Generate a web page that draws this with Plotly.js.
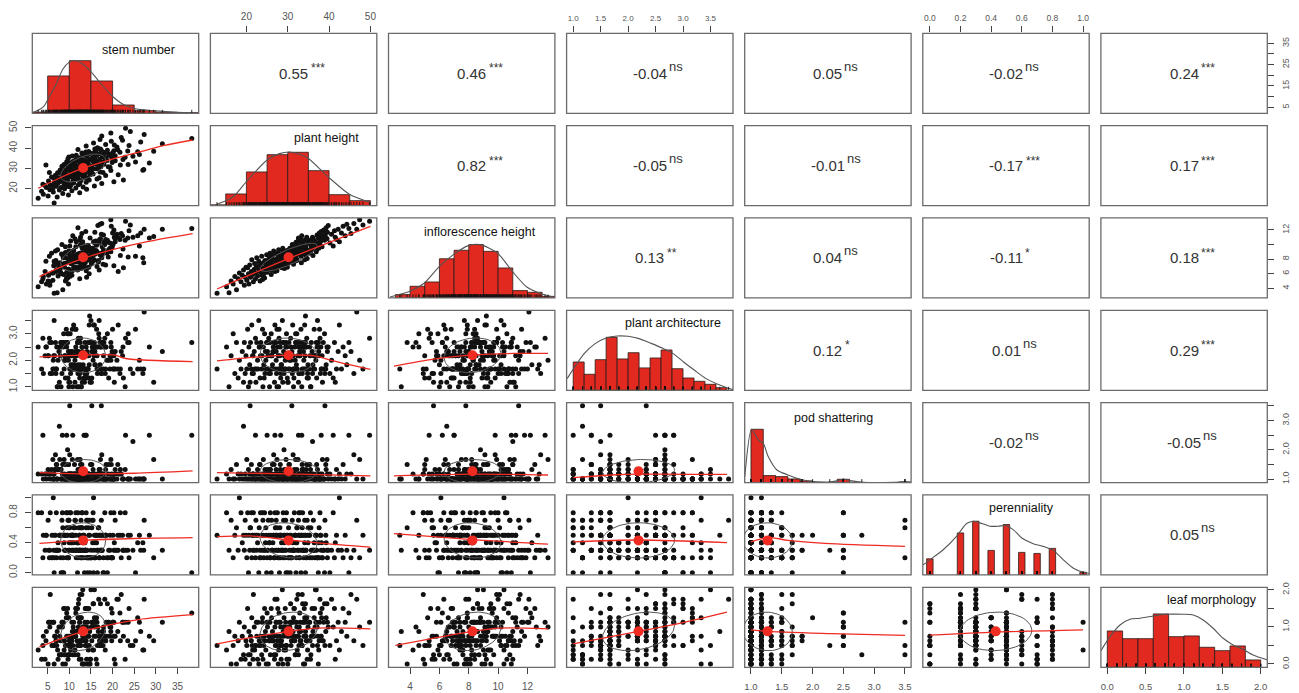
<!DOCTYPE html>
<html><head><meta charset="utf-8">
<script src="https://cdn.plot.ly/plotly-3.0.1.min.js"></script>
<style>html,body{margin:0;padding:0;background:#fff}</style>
</head><body><div id="chart" style="width:1299px;height:693px"></div>
<script>
// ---------------- DATA ----------------
const varNames = ['stem number','plant height','inflorescence height','plant architecture','pod shattering','perenniality','leaf morphology'];

const plantHeight = [12.9,
15.2,15.8,16.3,16.8,17.2,17.6,18.0,18.3,18.7,19.0,19.3,19.5,19.7,19.9,
20.1,20.3,20.5,20.6,20.8,21.0,21.2,21.3,21.5,21.7,21.9,22.0,22.2,22.3,22.5,22.7,22.8,23.0,23.1,23.3,23.4,23.5,23.7,23.8,24.0,24.1,24.2,24.4,24.5,24.6,24.8,24.9,20.9,21.6,22.4,23.2,23.9,24.3,24.7,21.4,
25.0,25.3,25.1,25.6,25.4,25.9,25.7,26.2,25.8,26.0,26.5,26.3,26.1,26.8,26.6,27.0,26.9,26.4,27.3,27.1,27.6,27.2,27.8,27.5,27.4,28.0,27.7,28.3,27.9,28.1,28.6,28.2,28.4,28.9,28.5,28.7,29.2,28.8,29.0,29.5,29.1,29.3,29.8,29.4,29.6,29.9,29.7,25.2,25.5,26.7,27.4,28.2,28.9,29.5,26.2,27.9,25.8,29.1,26.9,28.4,27.2,
30.0,30.4,30.2,30.7,30.5,30.9,30.3,31.1,30.8,31.4,31.2,31.6,31.0,31.8,31.5,32.0,31.3,32.3,31.7,32.1,32.5,31.9,32.7,32.4,32.2,32.9,32.6,33.1,32.8,33.3,33.0,33.5,33.2,33.7,33.4,33.9,33.6,34.1,33.8,34.3,34.0,34.5,34.2,34.7,34.4,34.9,34.6,34.8,30.6,31.3,32.2,33.0,33.8,34.4,30.1,31.9,32.8,33.5,34.1,30.8,31.6,32.6,34.3,
35.0,35.4,35.2,35.7,35.5,35.9,36.1,35.3,36.4,36.0,36.6,36.2,36.9,36.5,37.1,36.8,37.4,37.0,37.6,37.2,37.9,37.5,38.1,37.8,38.4,38.0,38.7,38.3,39.0,38.6,39.3,38.9,39.6,39.2,39.8,35.6,36.3,37.3,38.2,39.5,36.7,37.7,
40.2,40.6,41.0,41.3,41.8,42.2,42.5,43.0,43.4,43.9,44.3,44.8,41.5,
45.3,46.0,46.7,47.4,48.2,49.8];

const stemNumber = [6.5,
2.8,7.2,5.1,9.8,4.0,8.5,12.4,6.3,3.6,10.6,7.7,5.5,14.0,8.9,
6.2,11.5,8.1,4.7,13.2,9.4,7.0,15.8,10.3,5.6,12.1,8.8,3.9,9.9,17.5,7.4,11.0,6.5,13.9,9.1,20.3,8.0,10.8,5.2,12.7,7.8,14.6,9.6,6.9,11.9,16.4,8.4,10.1,4.4,12.4,7.1,9.3,22.5,11.3,6.0,
9.4,14.2,7.6,11.8,16.9,10.5,5.9,13.1,12.0,8.7,18.4,11.2,9.9,14.8,6.8,12.6,21.3,10.0,13.7,8.2,11.6,15.5,7.3,12.9,10.7,17.8,9.1,13.4,5.4,11.0,14.1,8.6,12.3,19.6,10.4,15.0,7.9,13.0,11.4,27.2,9.6,12.8,16.2,8.9,11.9,14.5,10.2,6.4,13.6,9.8,12.2,17.1,10.9,15.3,7.0,11.5,6.6,27.0,8.4,12.5,10.6,
13.5,9.8,16.7,12.1,19.4,10.6,14.9,8.3,17.3,12.8,11.0,21.8,15.2,9.1,13.8,18.0,11.7,14.4,4.6,16.0,12.5,23.6,10.3,15.7,13.1,19.9,11.3,17.6,14.0,9.4,16.4,12.9,25.3,13.6,10.8,18.7,15.5,12.2,20.6,14.7,11.9,17.0,13.3,9.7,22.4,15.9,12.6,18.3,14.2,10.1,16.8,13.0,20.1,11.5,15.1,8.8,17.9,12.4,14.6,19.0,13.7,28.5,15.6,
15.2,19.8,12.4,17.6,22.9,14.1,10.7,18.5,16.3,24.7,13.4,20.6,15.8,11.6,17.9,26.2,14.8,19.1,12.9,16.9,21.7,15.4,13.8,18.2,29.5,16.1,20.3,14.5,17.4,23.5,12.0,18.8,15.9,21.2,16.6,9.9,19.4,14.3,25.8,17.2,13.1,20.0,
16.5,21.0,13.9,23.8,18.4,31.5,15.6,26.5,19.7,22.3,17.1,38.3,20.4,
22.0,17.5,27.3,19.6,24.1,23.0];

const inflHeight = [3.3,
4.2,3.4,5.0,4.6,5.6,3.8,5.3,6.1,4.9,5.8,6.5,4.4,5.5,6.9,
5.1,6.8,6.0,4.6,7.2,5.5,6.3,7.9,5.9,4.9,6.6,7.4,5.3,6.1,8.2,5.7,6.9,7.7,6.4,5.0,7.1,6.2,8.4,5.8,6.7,7.5,6.0,5.4,7.8,6.5,7.0,8.6,5.6,6.3,6.9,7.3,5.2,6.8,7.6,6.1,
6.2,7.9,7.0,8.3,6.5,7.4,8.8,6.8,7.6,5.9,7.2,8.5,6.6,7.8,9.1,7.1,6.3,8.0,7.5,8.7,6.9,7.7,9.3,8.1,6.4,7.3,8.9,7.0,8.4,7.6,6.8,8.2,7.9,9.0,7.4,8.6,6.7,9.5,8.0,7.5,8.8,7.2,9.2,8.3,7.8,6.9,8.5,7.1,7.7,6.6,8.0,8.6,9.1,8.4,6.5,7.9,7.3,8.2,7.0,8.1,7.4,
8.1,9.0,7.6,8.6,9.5,7.9,8.4,10.0,8.8,7.3,9.2,8.5,7.8,9.7,8.9,10.3,8.2,9.4,7.7,8.7,9.9,8.3,10.5,9.1,8.0,9.6,10.8,8.6,9.3,7.5,9.0,10.1,8.4,9.8,11.2,8.8,9.5,7.9,10.4,9.2,8.7,10.7,9.6,8.1,9.4,10.2,11.0,9.0,8.5,9.8,7.8,8.9,10.0,9.7,7.4,8.2,9.3,10.6,9.1,8.3,9.5,10.9,8.6,
9.2,10.1,8.8,9.7,10.6,9.4,8.5,10.3,9.9,11.0,9.6,10.8,9.0,10.4,11.3,9.8,10.9,9.3,11.5,10.2,10.7,9.5,11.8,10.0,11.1,10.5,12.0,9.7,11.4,10.9,12.3,10.6,11.7,11.0,12.6,9.1,10.2,9.9,11.2,10.8,10.4,11.6,
10.2,11.4,9.8,11.9,10.7,12.1,10.4,11.6,12.5,11.2,12.8,12.2,11.0,
11.5,12.9,12.1,13.4,12.7,13.2];

const plantArchitecture = [
1.67,2.5,1.0,2.17,3.0,1.5,2.67,1.33,2.0,1.67,2.33,1.17,
2.67,1.5,2.17,1.67,3.17,1.0,2.5,1.83,2.67,1.67,3.33,2.17,
1.5,2.33,1.67,2.83,1.17,2.67,2.0,1.67,3.5,2.5,1.33,2.17,
2.67,1.67,2.17,1.0,2.5,1.83,3.0,1.5,2.33,1.67,2.67,1.17,
2.17,1.67,2.5,3.17,1.33,2.0,1.5,2.67,1.67,2.33,1.0,2.83,
1.67,2.67,2.17,1.5,3.0,2.5,1.83,2.17,1.17,2.67,1.67,3.33,
2.33,1.5,2.67,1.67,2.0,1.0,2.5,3.17,1.67,2.17,1.33,2.83,
2.17,1.67,2.5,1.5,2.67,1.83,3.5,2.17,1.17,2.33,1.67,2.67,
1.67,2.5,2.0,2.67,1.33,3.0,2.17,1.5,2.33,1.0,2.67,1.67,
2.5,1.67,3.17,2.17,1.5,2.67,1.83,2.33,1.17,2.0,1.67,2.83,
1.67,2.17,2.67,1.5,2.5,1.0,3.33,1.67,2.33,2.0,1.33,2.67,
2.17,1.67,2.5,1.83,2.67,3.0,1.5,2.17,1.67,2.33,1.17,2.67,
1.5,2.5,2.17,1.67,3.17,2.67,1.0,2.0,2.5,1.67,2.33,3.67,
2.67,1.67,2.17,1.33,2.5,1.83,2.83,1.5,2.17,1.67,3.0,2.33,
1.67,2.5,1.17,2.67,2.17,1.5,3.33,2.0,1.67,2.5,2.67,1.33,
2.17,1.67,2.67,1.0,2.33,1.83,2.5,3.17,1.5,2.17,1.67,2.67,
1.67,2.5,2.0,2.67,1.33,2.17,3.5,1.5,2.33,1.67,2.83,1.17,
2.5,1.67,2.17,1.5,2.67,1.83,3.0,2.33,1.67,2.5,1.0,2.17,
2.67,1.67,2.5,2.17,3.17,1.5,2.0,1.33,2.67,1.67,2.33,3.33,
1.67,2.5,2.17,1.83,2.67,1.17,2.33,1.5,3.83,2.0,1.67,2.83];

const podShattering = [
1.0,1.17,1.0,1.33,1.0,1.0,1.5,1.17,1.0,1.17,1.0,2.8,
1.0,1.17,1.0,1.67,1.0,1.33,1.0,1.17,1.0,1.5,1.0,1.17,
1.17,1.0,1.0,2.5,1.0,1.17,1.33,1.0,1.17,1.0,1.5,1.0,
1.0,1.0,1.17,1.0,1.67,1.17,1.0,1.33,1.0,1.0,1.17,3.5,
1.17,1.0,1.5,1.0,1.0,1.17,1.0,2.5,1.0,1.33,1.17,1.0,
1.0,1.33,1.0,1.17,1.0,1.0,1.5,1.17,1.0,1.83,1.0,1.17,
1.0,1.17,1.0,1.0,1.33,1.0,1.17,1.67,1.0,1.0,2.5,1.17,
1.17,1.0,1.5,1.0,1.0,1.17,1.0,1.33,1.0,1.17,1.0,2.0,
1.0,1.0,1.17,1.67,1.0,1.17,1.0,1.0,1.5,1.0,1.33,1.17,
1.17,1.0,1.0,1.33,1.0,2.5,1.17,1.0,1.0,1.5,1.17,1.0,
1.0,1.17,1.5,1.0,1.0,1.17,1.0,1.33,3.5,1.0,1.17,1.0,
1.0,1.0,1.17,1.0,1.67,1.0,1.17,1.0,1.33,1.0,1.0,1.17,
1.17,1.0,1.0,1.5,1.0,1.17,2.5,1.0,1.17,1.0,1.33,1.0,
1.0,1.33,1.0,1.17,1.0,1.0,1.5,1.0,1.17,1.83,1.0,1.17,
1.0,1.17,1.0,1.67,1.0,1.33,1.0,1.17,1.0,2.5,1.0,1.5,
1.17,1.0,1.0,1.33,1.17,1.0,1.5,1.0,2.28,1.0,1.17,1.0,
1.0,1.17,1.0,1.0,1.5,1.0,1.33,1.17,1.0,2.5,1.0,1.67,
1.0,1.0,1.17,3.5,1.0,1.33,1.0,1.17,1.5,1.0,1.17,1.0,
1.17,1.0,1.67,1.0,1.0,1.17,1.0,2.5,1.0,1.33,1.0,1.17,
1.0,1.5,1.0,1.17,2.5,1.0,1.17,1.83,1.0,1.67,1.0,2.5];

const perenniality = [
0.5,0.8,0.3,0.7,0.2,0.5,0.6,0.3,1.0,0.8,0.4,0.5,
0.3,0.7,0.5,0.2,0.8,0.0,0.5,0.3,0.6,0.8,0.2,0.5,
0.8,0.3,0.5,0.2,0.7,0.3,0.4,0.5,0.0,0.6,0.3,0.8,
0.2,0.5,0.3,0.7,0.5,0.2,0.8,0.3,0.4,0.5,0.0,0.6,
0.3,0.5,0.2,0.8,0.3,0.6,0.5,0.2,0.7,0.3,0.4,0.5,
0.5,0.2,0.3,0.8,0.0,0.5,0.3,0.7,0.2,0.5,0.6,0.3,
0.4,0.3,0.5,0.2,0.7,0.3,0.8,0.5,0.0,0.3,0.5,0.2,
0.6,0.3,0.2,0.5,0.8,0.4,0.3,0.5,0.2,0.7,0.3,0.5,
0.2,0.5,0.3,0.0,0.5,0.8,0.3,0.4,0.2,0.6,0.5,0.3,
0.7,0.3,0.5,0.2,0.4,0.8,0.3,0.5,0.0,0.3,0.6,0.2,
0.5,0.3,0.2,0.7,0.5,0.3,0.4,0.8,0.2,0.5,0.3,0.0,
0.3,0.6,0.5,0.2,0.3,0.5,0.8,0.3,0.4,0.2,0.7,0.5,
0.2,0.5,0.3,0.6,0.0,0.3,0.5,0.2,0.8,0.4,0.3,0.5,
0.3,0.2,0.5,0.7,0.3,0.4,0.2,0.5,0.0,0.3,0.6,0.8,
0.5,0.3,0.2,0.4,0.5,0.3,0.7,0.2,0.3,0.5,0.0,0.6,
0.2,0.5,0.3,0.8,0.2,0.3,0.5,0.4,0.3,0.2,0.7,0.5,
0.3,0.2,0.5,0.0,0.3,0.6,0.2,0.5,0.4,0.3,0.8,0.2,
0.5,0.3,0.2,0.7,0.3,0.4,0.0,0.2,0.5,0.3,0.6,0.3,
0.2,0.4,0.3,0.5,0.2,0.0,0.3,0.8,0.2,0.5,0.3,1.0,
0.3,0.2,0.5,0.3,0.0,0.4,0.2,0.3,0.7,0.2,0.5,0.3];

const leafMorphology = [
0.5,0.375,0.875,0,0.5,0.75,0,0.625,1.125,0.125,0.75,0.25,
1.0,0.125,0.625,0.5,1.5,0.25,0.875,0,0.75,0.625,1.25,0.375,
1.875,1.0,0.375,0.5,0.5,0.75,0.125,1.125,0,0.625,0.5,0.75,
0.625,0.25,1.125,0.125,0.75,0.5,1.5,0.625,0.875,0,1.125,0.25,
0.125,1.125,0.5,1.25,0.75,0.375,0.5,1.375,0,1.0,0.625,0.75,
0.625,1.125,0.75,0.25,1.5,0.625,0.875,1.25,0.125,0.75,0.5,1.75,
0.625,0.5,0.25,1.5,1.125,0.375,0.625,0.75,0.5,0,1.0,1.125,
0.75,0.5,1.125,0.125,0.875,0.625,2.0,1.0,0,0.75,0.375,1.25,
0.875,0.125,1.5,0.5,0.75,0.5,1.125,0.625,0.25,1.75,0.625,1.0,
1.125,0.625,1.375,0.75,0.375,1.0,0.5,1.125,0,0.75,0.875,1.625,
1.0,0.625,0.125,1.125,0.5,1.25,0.75,0.625,1.125,0.25,1.5,0.75,
0.875,0.375,0.625,1.125,1.875,1.125,0.5,0.75,1.0,1.375,0.25,0.875,
1.0,0.5,1.125,1.875,0.625,1.125,0.5,0.75,1.625,1.25,0,0.875,
1.5,0.625,0.75,0.125,1.125,1.0,1.25,0.375,1.125,0.75,1.75,0.625,
1.125,0.75,1.0,0.25,0.875,0.5,0,1.125,1.5,0.75,1.625,0.625,
0.625,1.125,0.75,0.125,1.5,0.875,1.125,1.25,0.5,1.0,0.75,2.0,
1.5,1.0,1.125,0,1.125,0.625,0.5,1.375,0.375,0.75,1.75,0.625,
0.75,1.125,1.5,0.5,0.625,1.25,1.625,1.125,0.875,1.0,0.25,0.75,
0.75,1.25,1.625,2.0,1.125,0.5,1.75,1.0,1.5,0.625,1.125,0.375,
0.875,1.5,1.125,0.75,1.375,0.125,1.875,0.625,1.75,1.0,0.5,1.125];

// summary statistics (mean dot, ellipse size)
const varMeans = [13.2, 30.2, 8.25, 2.19, 1.27, 0.43, 0.88];
const varSDs   = [5.2, 6.9, 1.93, 0.655, 0.40, 0.235, 0.52];

// correlations (upper triangle, row by row) and significance marks
const corrValues = [0.55,0.46,-0.04,0.05,-0.02,0.24, 0.82,-0.05,-0.01,-0.17,0.17, 0.13,0.04,-0.11,0.18, 0.12,0.01,0.29, -0.02,-0.05, 0.05];
const corrLabels = ['0.55','0.46','-0.04','0.05','-0.02','0.24','0.82','-0.05','-0.01','-0.17','0.17','0.13','0.04','-0.11','0.18','0.12','0.01','0.29','-0.02','-0.05','0.05'];
const corrStars  = ['***','***','ns','ns','ns','***','***','ns','ns','***','***','**','ns','*','***','*','ns','***','ns','ns','ns'];

// histograms (bar heights as % of panel height)
const stemBreaks = [0,5,10,15,20,25,30,35,40];
const stemHist = [1.5,46.7,65.8,40.4,10.4,3.3,1.2,0.8];
const heightBreaks = [10,15,20,25,30,35,40,45,50];
const heightHist = [1,14.6,42.1,63.75,66.7,43.75,13.75,6.25];
const inflBreaks = [3,4,5,6,7,8,9,10,11,12,13,14];
const inflHist = [4.2,14.6,20,49,59.6,66.7,58.3,37.5,9.2,7.1,2];
const archBreaks = [1.0,1.2,1.4,1.6,1.8,2.0,2.2,2.4,2.6,2.8,3.0,3.2,3.4,3.6,3.8];
const archHist = [35.4,20,38.3,66.25,39.2,47,28,40.4,50.4,27,15.4,11.25,7.5,3.3];
const podBreaks = [1.0,1.2,1.4,1.6,1.8,2.0,2.2,2.4,2.6,2.8,3.0,3.2,3.4,3.6];
const podHist = [66.7,8.75,7.5,4.6,2.1,0.6,0.4,4.2,0.5,0,0,0,0.8];
const perenLevels = [0,0.2,0.3,0.4,0.5,0.6,0.7,0.8,1.0];
const perenHist = [20.2,52.5,67.2,30.7,63,28.2,26.9,33.2,3.4];
const leafBreaks = [0,0.2,0.4,0.6,0.8,1.0,1.2,1.4,1.6,1.8,2.0];
const leafHist = [45.4,35.8,35.8,66.7,38.3,39.2,25,20.8,26.7,9.2];

// density curves (x, % of panel height)
const stemDensX = [1.7,4,5.5,7,8.5,10,11.2,13,15,17,20,22.5,25,30,35,38.5];
const stemDensY = [1,8,22,37,55,64,66,62,52,39,21,11,6,3,1.2,0.6];
const heightDensX = [12.5,15,17,20,25,28,30.5,33,35,40,45,50];
const heightDensY = [1,6,12,30,57,65,67,64,59,35,14,4];
const inflDensX = [2.64,4.0,4.98,6.0,6.95,7.97,8.77,9.95,10.97,11.95,12.98,13.77];
const inflDensY = [1.25,8.3,18.75,39.6,54.2,65.4,66.7,56.25,33.3,13.75,5,1.25];
const archDensX = [0.89,1.2,1.4,1.6,1.8,2.0,2.2,2.4,2.62,2.82,3.01,3.21,3.42,3.61,3.8,3.91];
const archDensY = [14.6,45.8,58.3,65.4,67.9,67.5,64.6,59.2,52.9,45.8,35.4,25,14.6,8.3,3.3,0.8];
const podDensX = [0.9,1.01,1.12,1.2,1.28,1.42,1.6,1.78,2.01,2.23,2.42,2.5,2.61,2.77,3.31,3.5,3.58];
const podDensY = [7.5,66.7,53.3,49,32.5,15.8,9.6,4.6,1.25,0.4,2.5,4.6,2.5,0.8,0.4,1.25,0.4];
const perenDensX = [-0.044,0,0.087,0.174,0.24,0.283,0.327,0.392,0.447,0.49,0.544,0.6,0.675,0.74,0.806,0.871,0.937,1.0,1.04];
const perenDensY = [12.6,18.9,31.5,48.3,64.3,67.2,65.1,60.9,60.9,61.8,56.7,46.2,39.1,35.7,30.7,18.9,8.4,3.4,2.1];
const leafDensX = [-0.082,0.035,0.166,0.296,0.427,0.6,0.774,0.991,1.12,1.25,1.38,1.51,1.64,1.77,1.9,2.09];
const leafDensY = [20.8,38.3,52.9,60,61.25,64.2,66.25,66.25,65.4,59.2,48.75,36.25,27.9,22.5,15.4,9.2];

// smoothed (lowess) lines, keyed "row-col"
const smoothX = {
 '2-1':[2.8,8,13.2,19,26,32,38.5], '3-1':[3.1,8,13.2,20,28,38.5], '3-2':[12.9,30.3,50],
 '4-1':[3.1,13.2,20.5,23,38.5], '4-2':[12.9,22,30.3,36.5,41,50], '4-3':[2.9,5.6,8.25,11,13.4],
 '5-1':[3.1,13,25,38.5], '5-2':[12.9,30,50], '5-3':[2.9,8.25,13.4], '5-4':[1.0,1.7,2.2,3.8],
 '6-1':[3.1,13.2,25,38.5], '6-2':[12.9,21,30.3,40.5,50], '6-3':[2.9,8.25,13.4], '6-4':[1.0,2.2,3.8], '6-5':[1.0,1.28,1.6,2.2,3.5],
 '7-1':[3.1,8,13.2,19,26,38.5], '7-2':[12.9,22,30.3,37,50], '7-3':[3.0,8.25,10.1,13.4], '7-4':[1.0,2.19,2.83,3.8], '7-5':[1.0,1.25,2.3,3.5], '7-6':[0,0.43,1.0]
};
const smoothY = {
 '2-1':[20.2,25.5,30.1,34,38,41.3,44], '3-1':[5.6,6.9,8.1,9.3,10.4,11.5], '3-2':[3.9,8.1,12.5],
 '4-1':[2.13,2.2,2.2,2.07,1.95], '4-2':[1.98,2.12,2.2,2.17,1.98,1.66], '4-3':[1.78,2.05,2.2,2.26,2.26],
 '5-1':[1.22,1.18,1.2,1.28], '5-2':[1.22,1.18,1.11], '5-3':[1.11,1.17,1.14], '5-4':[1.05,1.14,1.17,1.16],
 '6-1':[0.39,0.43,0.455,0.467], '6-2':[0.48,0.49,0.435,0.38,0.34], '6-3':[0.52,0.44,0.38], '6-4':[0.41,0.435,0.40], '6-5':[0.41,0.47,0.43,0.39,0.35],
 '7-1':[0.46,0.68,0.88,1.05,1.2,1.33], '7-2':[0.54,0.73,0.88,0.97,0.95], '7-3':[0.5,0.88,0.97,0.95], '7-4':[0.54,0.88,1.06,1.4], '7-5':[0.92,0.88,0.82,0.77], '7-6':[0.78,0.86,0.92]
};

// axis tick labels
const stemTicks = [5,10,15,20,25,30,35];
const stemTickText = ['5','10','15','20','25','30','35'];
const stemTickTextSparse = ['5','','15','','25','','35'];
const heightTicks = [20,30,40,50];
const heightTickText = ['20','30','40','50'];
const inflTicks = [4,6,8,10,12];
const inflTickText = ['4','6','8','10','12'];
const inflTickTextSparse = ['4','6','8','','12'];
const halfTicks = [1.0,1.5,2.0,2.5,3.0,3.5];
const halfTickText = ['1.0','1.5','2.0','2.5','3.0','3.5'];
const halfTickTextSparse = ['1.0','','2.0','','3.0',''];
const perenTicks = [0,0.2,0.4,0.6,0.8,1.0];
const perenTickText = ['0.0','0.2','0.4','0.6','0.8','1.0'];
const perenTickTextSparse = ['0.0','','0.4','','0.8',''];
const leafTicks = [0,0.5,1.0,1.5,2.0];
const leafTickText = ['0.0','0.5','1.0','1.5','2.0'];
const leafTickTextSparse = ['0.0','','1.0','','2.0'];

// ---------------- LAYOUT / STYLE ----------------
const W = 1299, H = 693;
const LEFT0 = 32.3, PITCH_X = 178.1, PW = 166.4;
const TOP0 = 33.3, PITCH_Y = 92.33, PH = 80;
const FONT = '"Liberation Sans", Arial, Helvetica, sans-serif';
const RED_BAR = '#e1291f', RED_LINE = '#ef2b22', FRAME = '#6a6a6a';
const xRanges = [[1.45,39.9],[11.29,51.55],[2.53,13.87],[0.88,3.91],[0.898,3.60],[-0.046,1.04],[-0.083,2.086]];
const yRanges = [[2.2,39.7],[11.6,51.1],[2.67,13.65],[0.87,3.89],[0.88,3.61],[-0.031,1.036],[-0.089,2.07]];
const labelDx = [105.7,116.3,91.5,106.7,88.6,98.9,110.8];
const labelDy = [16.7,12.7,13.8,12.4,15.7,13.4,12.7];

const dataCols = [stemNumber, plantHeight, inflHeight, plantArchitecture, podShattering, perenniality, leafMorphology];
const N = Math.min(...dataCols.map(a => a.length));
const cols = dataCols.map(a => a.slice(0, N));

function mids(br){ const m=[]; for(let i=0;i<br.length-1;i++) m.push((br[i]+br[i+1])/2); return m; }
function widths(br){ const w=[]; for(let i=0;i<br.length-1;i++) w.push(br[i+1]-br[i]); return w; }
const hists = [
  {x:mids(stemBreaks), w:widths(stemBreaks), y:stemHist},
  {x:mids(heightBreaks), w:widths(heightBreaks), y:heightHist},
  {x:mids(inflBreaks), w:widths(inflBreaks), y:inflHist},
  {x:mids(archBreaks), w:widths(archBreaks), y:archHist},
  {x:mids(podBreaks), w:widths(podBreaks), y:podHist},
  {x:perenLevels, w:perenLevels.map(()=>0.042), y:perenHist},
  {x:mids(leafBreaks), w:widths(leafBreaks), y:leafHist}
];
const dens = [[stemDensX,stemDensY],[heightDensX,heightDensY],[inflDensX,inflDensY],[archDensX,archDensY],[podDensX,podDensY],[perenDensX,perenDensY],[leafDensX,leafDensY]];

function corrIndex(i,j){ // i<j, 1-based
  let idx=0; for(let a=1;a<i;a++) idx += 7-a; return idx + (j-i-1);
}
function pl(c){ return LEFT0 + PITCH_X*(c-1); }
function pt(r){ return TOP0 + PITCH_Y*(r-1); }

const tickFont = (s)=>({family:FONT, size:s, color:'#555'});
function tickCfg(vals, text, size, standoff, angle){
  const o = {ticks:'outside', ticklen:6, tickwidth:1, tickcolor:'#444', tickmode:'array', tickvals:vals, ticktext:text,
    showticklabels:true, tickfont:tickFont(size), ticklabelstandoff:standoff};
  if (angle !== undefined) o.tickangle = angle;
  return o;
}
const topTicks = {2:[heightTicks,heightTickText,10], 4:[halfTicks,halfTickText,8], 6:[perenTicks,perenTickText,8.5]};
const bottomTicks = {1:[stemTicks,stemTickText,10], 3:[inflTicks,inflTickText,10], 5:[halfTicks,halfTickText,9.5], 7:[leafTicks,leafTickText,9.5]};
const leftTicks = {2:[heightTicks,heightTickText,10], 4:[halfTicks,halfTickTextSparse,10], 6:[perenTicks,perenTickTextSparse,10]};
const rightTicks = {1:[stemTicks,stemTickTextSparse,9], 3:[inflTicks,inflTickTextSparse,9], 5:[halfTicks,halfTickTextSparse,9], 7:[leafTicks,leafTickTextSparse,9]};

const traces = [];
const layout = {width:W, height:H, margin:{l:0,r:0,t:0,b:0,pad:0}, showlegend:false, hovermode:false,
  paper_bgcolor:'#ffffff', plot_bgcolor:'#ffffff', font:{family:FONT}, shapes:[], annotations:[]};

const measure = document.createElement('canvas').getContext('2d');

function baseAxis(extra){
  return Object.assign({showgrid:false, zeroline:false, showline:false, ticks:'', showticklabels:false, fixedrange:true}, extra);
}

for (let r=1;r<=7;r++){
  for (let c=1;c<=7;c++){
    const k = (r-1)*7 + c;
    const xn = k===1 ? 'x' : 'x'+k, yn = k===1 ? 'y' : 'y'+k;
    const xa = baseAxis({domain:[pl(c)/W, (pl(c)+PW)/W], range:xRanges[c-1], anchor:yn});
    const ya = baseAxis({domain:[1-(pt(r)+PH)/H, 1-pt(r)/H], range: r===c ? [0,100] : yRanges[r-1], anchor:xn});
    if (r===1 && topTicks[c]) Object.assign(xa, tickCfg(...topTicks[c], 2), {side:'top'});
    if (r===7 && bottomTicks[c]) Object.assign(xa, tickCfg(...bottomTicks[c], 4), {side:'bottom'});
    if (c===1 && leftTicks[r]) Object.assign(ya, tickCfg(...leftTicks[r], 4, -90), {side:'left'});
    if (c===7 && rightTicks[r] && r!==7) Object.assign(ya, tickCfg(...rightTicks[r], 4, -90), {side:'right'});
    layout[k===1?'xaxis':'xaxis'+k] = xa;
    layout[k===1?'yaxis':'yaxis'+k] = ya;

    layout.shapes.push({type:'rect', xref:'paper', yref:'paper', x0:pl(c)/W, x1:(pl(c)+PW)/W,
      y0:1-(pt(r)+PH)/H, y1:1-pt(r)/H, line:{color:FRAME, width:1.3}, fillcolor:'rgba(0,0,0,0)', layer:'above'});

    if (r > c){
      const xs = cols[c-1], ys = cols[r-1];
      traces.push({type:'scatter', mode:'markers', x:xs, y:ys, xaxis:xn, yaxis:yn,
        marker:{size:5, color:'#111'}, hoverinfo:'skip'});
      // correlation ellipse (1 SD) from mean, SD and r
      const rr = corrValues[corrIndex(c,r)];
      const th = (rr===0?1:Math.sign(rr))/Math.SQRT2, a=Math.sqrt(1+rr), b=Math.sqrt(1-rr);
      const ex=[], ey=[];
      for (let i=0;i<=72;i++){ const t=i/72*2*Math.PI, co=Math.cos(t), si=Math.sin(t);
        ex.push(varMeans[c-1] + varSDs[c-1]*th*(a*co - b*si));
        ey.push(varMeans[r-1] + varSDs[r-1]*th*(a*co + b*si)); }
      traces.push({type:'scatter', mode:'lines', x:ex, y:ey, xaxis:xn, yaxis:yn, line:{color:'#555', width:1}, hoverinfo:'skip'});
      const key = r+'-'+c;
      traces.push({type:'scatter', mode:'lines', x:smoothX[key], y:smoothY[key], xaxis:xn, yaxis:yn,
        line:{color:RED_LINE, width:1.3, shape:'spline', smoothing:0.8}, hoverinfo:'skip'});
      traces.push({type:'scatter', mode:'markers', x:[varMeans[c-1]], y:[varMeans[r-1]], xaxis:xn, yaxis:yn,
        marker:{size:10, color:RED_LINE}, hoverinfo:'skip'});
    } else if (r === c){
      const h = hists[c-1];
      traces.push({type:'bar', x:h.x, y:h.y, width:h.w, xaxis:xn, yaxis:yn,
        marker:{color:RED_BAR, line:{color:'#2a1a18', width:0.8}}, hoverinfo:'skip'});
      traces.push({type:'scatter', mode:'lines', x:dens[c-1][0], y:dens[c-1][1], xaxis:xn, yaxis:yn,
        line:{color:'#555', width:1.1, shape:'spline', smoothing:0.7}, hoverinfo:'skip'});
      traces.push({type:'scatter', mode:'markers', x:cols[c-1], y:cols[c-1].map(()=>0), xaxis:xn, yaxis:yn,
        marker:{symbol:'line-ns-open', size:5, color:'#111', line:{width:0.9, color:'#111'}}, hoverinfo:'skip'});
      layout.annotations.push({xref:'paper', yref:'paper', x:(pl(c)+labelDx[c-1])/W, y:1-(pt(r)+labelDy[r-1])/H,
        text:varNames[c-1], showarrow:false, xanchor:'center', yanchor:'middle', font:{family:FONT, size:12.5, color:'#111'}});
    } else {
      traces.push({type:'scatter', mode:'markers', x:[null], y:[null], xaxis:xn, yaxis:yn, hoverinfo:'skip'});
      const idx = corrIndex(r,c);
      const cx = (pl(c)+PW/2)/W, cy = 1-(pt(r)+PH/2)/H;
      measure.font = '15px "Liberation Sans"';
      const w = measure.measureText(corrLabels[idx]).width;
      layout.annotations.push({xref:'paper', yref:'paper', x:cx, y:cy, text:corrLabels[idx], showarrow:false,
        xanchor:'center', yanchor:'middle', font:{family:FONT, size:15, color:'#333'}});
      const st = corrStars[idx];
      layout.annotations.push({xref:'paper', yref:'paper', x:cx, y:cy, text:st, showarrow:false,
        xanchor:'left', yanchor:'middle', xshift:w/2 + (st==='ns'?0:0.5), yshift: st==='ns'?7:5,
        font:{family:FONT, size: st==='ns'?13:12, color:'#333'}});
    }
  }
}
// right-hand leaf morphology scale on the last diagonal panel
layout.yaxis50 = baseAxis(Object.assign({overlaying:'y49', anchor:'x49', range:yRanges[6], side:'right'},
  tickCfg(leafTicks, leafTickTextSparse, 9, 4, -90)));
traces.push({type:'scatter', mode:'markers', x:[null], y:[null], xaxis:'x49', yaxis:'y50', hoverinfo:'skip'});

Plotly.newPlot('chart', traces, layout, {staticPlot:true, displayModeBar:false});
</script>
</body></html>
